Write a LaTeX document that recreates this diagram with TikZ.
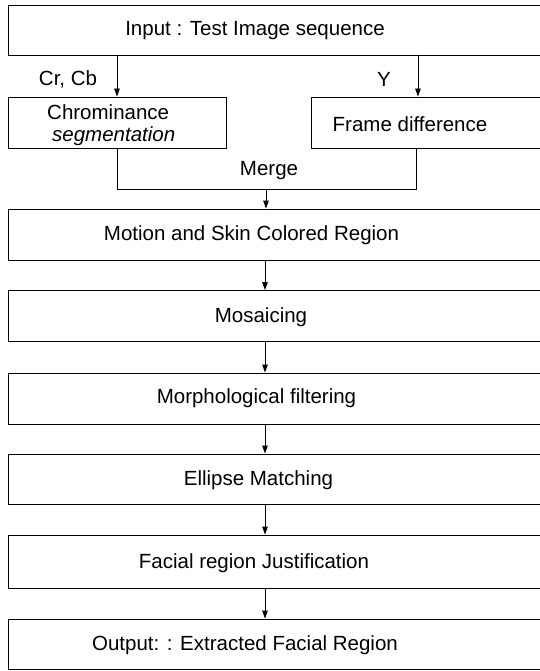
\documentclass[tikz,border=0pt]{standalone}
\usepackage{fontspec}
\setmainfont{Liberation Sans}
\usetikzlibrary{arrows.meta}
\begin{document}
\begin{tikzpicture}[x=1pt,y=-1pt,
  box/.style={draw=black,line width=0.9pt,rectangle,inner sep=0pt},
  wide/.style={box,minimum width=534pt,minimum height=51pt},
  lbl/.style={inner sep=0pt,font=\fontsize{20.5}{24}\selectfont},
  arr/.style={draw=black,line width=0.9pt,-{Triangle[length=8pt,width=5.5pt]}},
  ln/.style={draw=black,line width=0.9pt}]
\useasboundingbox (0,0) rectangle (540,671);
% boxes
\node[box,minimum width=534pt,minimum height=50pt] (inp) at (275,30) {};
\node[box,minimum width=218pt,minimum height=51pt] (chrom) at (117,122.5) {};
\node[box,minimum width=231pt,minimum height=51pt] (frame) at (426.5,122.5) {};
\node[wide] (motion) at (275,234.5) {};
\node[wide] (mosaic) at (275,316) {};
\node[wide] (morph) at (275,398.5) {};
\node[wide,minimum height=50pt] (ellipse) at (275,479) {};
\node[wide,minimum height=53pt] (facial) at (275,561.5) {};
\node[wide,minimum height=50pt] (output) at (275,644) {};
% texts
\node[lbl] (tinp) at (255,31) {Input : Test Image sequence};
\node[lbl,anchor=west] (tchrom1) at (47,112) {Chrominance};
\node[lbl,anchor=west] (tchrom2) at (52,136) {\itshape segmentation};
\node[lbl] (tframe) at (410,124) {Frame difference};
\node[lbl] (tcr) at (68,79) {Cr, Cb};
\node[lbl] (ty) at (384,79) {Y};
\node[lbl] (tmerge) at (269,171) {Merge};
\node[lbl] (tmotion) at (251.5,235) {Motion and Skin Colored Region};
\node[lbl] (tmosaic) at (261,317) {Mosaicing};
\node[lbl] (tmorph) at (256.5,398) {Morphological filtering};
\node[lbl] (tellipse) at (258.5,480) {Ellipse Matching};
\node[lbl] (tfacial) at (254,563) {Facial region Justification};
\node[lbl] (toutput) at (245,645) {Output: : Extracted Facial Region};
% connectors
\coordinate (ya) at (418,55);
\coordinate (m1) at (117,189);
\coordinate (m2) at (416,189);
\coordinate (mc) at (266,189);
\coordinate (ax) at (265,0);
\draw[arr] (inp.south -| chrom.center) -- (chrom.north);
\draw[arr] (ya) -- (ya |- frame.north);
\draw[ln] (chrom.south) -- (m1) -- (m2) -- (m2 |- frame.south);
\draw[arr] (mc) -- (mc |- motion.north);
\draw[arr] (motion.south -| ax) -- (mosaic.north -| ax);
\draw[arr] (mosaic.south -| ax) -- (morph.north -| ax);
\draw[arr] (morph.south -| ax) -- (ellipse.north -| ax);
\draw[arr] (ellipse.south -| ax) -- (facial.north -| ax);
\draw[arr] (facial.south -| ax) -- (output.north -| ax);
\end{tikzpicture}
\end{document}
